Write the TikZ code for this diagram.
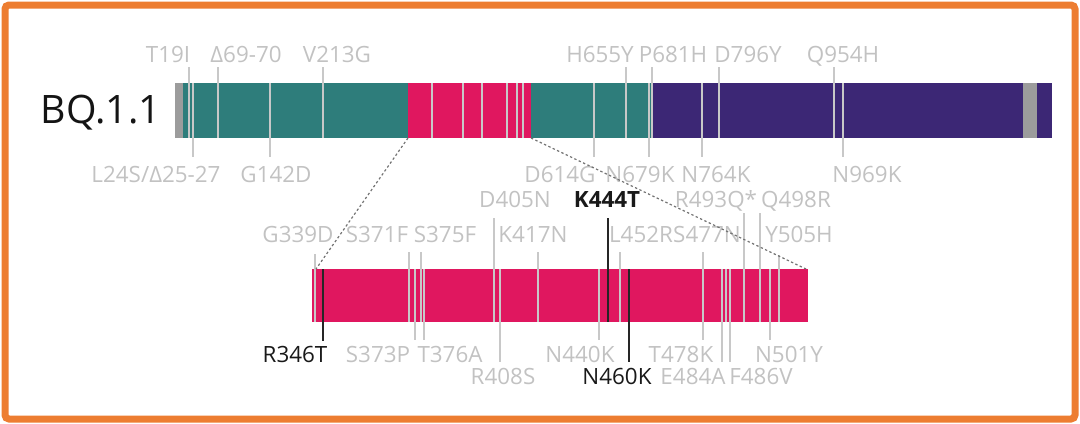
\documentclass[tikz,border=0pt]{standalone}
\usepackage{fontspec}
\setmainfont{Open Sans}
\usetikzlibrary{positioning}
\definecolor{ntdteal}{HTML}{2E7D7B}
\definecolor{rbdpink}{HTML}{E0175F}
\definecolor{stwopurple}{HTML}{3C2775}
\definecolor{termgray}{HTML}{9C9C9C}
\definecolor{mutgray}{HTML}{C8C8C8}
\definecolor{labgray}{HTML}{C2C2C2}
\definecolor{frameorange}{HTML}{ED7D31}

\tikzset{
  seg/.style={rectangle, inner sep=0pt, outer sep=0pt, minimum height=27.5pt},
  mut/.style={draw=mutgray, line width=1pt},
  keymut/.style={draw=black!85, line width=1.2pt},
  lab/.style={text=labgray, inner sep=0pt, anchor=base, font=\fontsize{11.2}{13}\selectfont},
  keylab/.style={lab, text=black!90},
  zoomline/.style={draw=black!55, line width=0.6pt, dash pattern=on 1.2pt off 1.2pt},
}

\begin{document}
\begin{tikzpicture}[x=0.5pt, y=-0.5pt]
  \useasboundingbox (0,0) rectangle (1080,423);
  \draw[frameorange, line width=3.5pt, rounded corners=2pt] (5,5) rectangle (1075,419);

  % Define nodes
  \node[font=\fontsize{19.6}{22}\selectfont, text=black!92, inner sep=0pt, anchor=base] (name) at (101,123) {BQ.1.1};
  \node[seg, fill=termgray, minimum width=4pt, anchor=west] (nterm) at (175,110.5) {};
  \node[seg, fill=ntdteal, minimum width=112.5pt, right=0pt of nterm] (ntd) {};
  \node[seg, fill=rbdpink, minimum width=61.5pt, right=0pt of ntd] (rbd) {};
  \node[seg, fill=ntdteal, minimum width=61pt, right=0pt of rbd] (sdone) {};
  \node[seg, fill=stwopurple, minimum width=199.5pt, right=0pt of sdone] (stwo) {};
  \node[seg, fill=termgray, minimum width=7pt, anchor=west] (tm) at (1023,110.5) {};
  \node[seg, fill=rbdpink, minimum width=248pt, minimum height=26.5pt, anchor=north west] (rbdzoom) at (312,269) {};

  % Mutations on the spike
  \draw[mut] (189,67) -- (189,138) (193,83) -- (193,157) (218,67) -- (218,138)
    (270,83) -- (270,157) (323,67) -- (323,138)
    (432,83) -- (432,138) (463,83) -- (463,138) (482,83) -- (482,138)
    (507,83) -- (507,138) (517,83) -- (517,138) (523,83) -- (523,138)
    (594,83) -- (594,157) (626,67) -- (626,138) (649,83) -- (649,157)
    (652,67) -- (652,138) (702,83) -- (702,157) (719,67) -- (719,138)
    (834,67) -- (834,138) (843,83) -- (843,157);

  % Mutations on the RBD
  \draw[mut] (315,254) -- (315,322) (409,252) -- (409,322) (415,269) -- (415,340)
    (421,252) -- (421,322) (424,269) -- (424,340) (494,218) -- (494,322)
    (500,269) -- (500,362) (538,252) -- (538,322) (599,269) -- (599,340)
    (620,252) -- (620,322) (703,252) -- (703,340) (722,269) -- (722,362)
    (726,269) -- (726,322) (730,269) -- (730,362) (744,213) -- (744,322)
    (760,213) -- (760,322) (770,269) -- (770,340) (779,255) -- (779,322);
  \draw[keymut] (323,269) -- (323,341) (608,218) -- (608,322) (629,269) -- (629,362);

  % Labels
  \node[lab] (t19i) at (168,62) {T19I};
  \node[lab] (d6970) at (246,62) {Δ69-70};
  \node[lab] (v213g) at (337,62) {V213G};
  \node[lab] (h655y) at (600,62) {H655Y};
  \node[lab] (p681h) at (673,62) {P681H};
  \node[lab] (d796y) at (748,62) {D796Y};
  \node[lab] (q954h) at (843,62) {Q954H};
  \node[lab] (l24s) at (156,182) {L24S/Δ25-27};
  \node[lab] (g142d) at (276,182) {G142D};
  \node[lab] (d614g) at (560,182) {D614G};
  \node[lab] (n679k) at (640,182) {N679K};
  \node[lab] (n764k) at (716,182) {N764K};
  \node[lab] (n969k) at (867,182) {N969K};

  \node[lab] (d405n) at (515,207) {D405N};
  \node[keylab, font=\fontsize{11.2}{13}\selectfont\bfseries] (k444t) at (607,207) {K444T};
  \node[lab] (r493q) at (716,207) {R493Q*};
  \node[lab] (q498r) at (796,207) {Q498R};
  \node[lab] (g339d) at (298,242) {G339D};
  \node[lab] (s371f) at (377,242) {S371F};
  \node[lab] (s375f) at (445,242) {S375F};
  \node[lab] (k417n) at (533,242) {K417N};
  \node[lab] (l452r) at (641,242) {L452R};
  \node[lab] (s477n) at (707,242) {S477N};
  \node[lab] (y505h) at (799,242) {Y505H};
  \node[keylab] (r346t) at (295,362) {R346T};
  \node[lab] (s373p) at (378,362) {S373P};
  \node[lab] (t376a) at (450,362) {T376A};
  \node[lab] (n440k) at (580,362) {N440K};
  \node[lab] (t478k) at (681,362) {T478K};
  \node[lab] (n501y) at (789,362) {N501Y};
  \node[lab] (r408s) at (503,384) {R408S};
  \node[keylab] (n460k) at (617,384) {N460K};
  \node[lab] (e484a) at (693,384) {E484A};
  \node[lab] (f486v) at (761,384) {F486V};

  % Connect the nodes
  \draw[zoomline] (rbd.south west) -- ([xshift=2pt]rbdzoom.north west);
  \draw[zoomline] (rbd.south east) -- ([xshift=-1pt]rbdzoom.north east);
\end{tikzpicture}
\end{document}
